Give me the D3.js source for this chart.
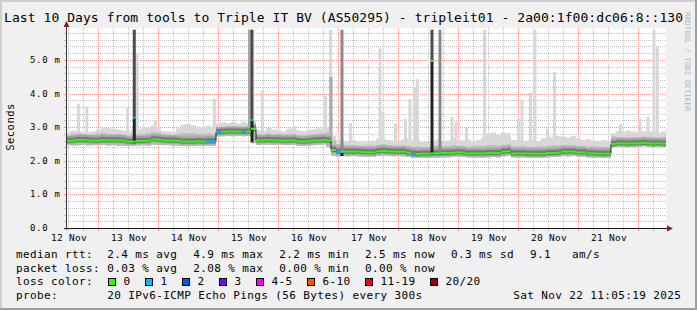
<!DOCTYPE html>
<html lang="en">
<head>
<meta charset="utf-8">
<title>SmokePing - tripleit01 - last 10 days</title>
<script src="https://cdn.jsdelivr.net/npm/d3@7/dist/d3.min.js"></script>
<style>
  html, body { margin: 0; padding: 0; background: #f0f0f0; }
  svg { display: block; }
  text { font-family: "DejaVu Sans Mono", monospace; fill: #000; white-space: pre; }
</style>
</head>
<body>
<div id="chart"></div>
<script>
// ---------- data (2 hour buckets, ms) ----------
var startTime = new Date(2025, 10, 12, 11, 5, 19);
var endTime   = new Date(2025, 10, 22, 11, 5, 19);

var median = [
  2.59, 2.60, 2.62, 2.62, 2.61, 2.60, 2.60, 2.62, 2.61, 2.61,
  2.61, 2.60, 2.57, 2.57, 2.59, 2.59, 2.60, 2.64, 2.63, 2.61,
  2.60, 2.60, 2.59, 2.57, 2.57, 2.57, 2.58, 2.57, 2.58, 2.58,
  2.85, 2.86, 2.87, 2.87, 2.87, 2.86, 2.87, 2.95, 2.61, 2.61,
  2.62, 2.61, 2.61, 2.60, 2.60, 2.61, 2.58, 2.57, 2.58, 2.60,
  2.61, 2.62, 2.60, 2.32, 2.27, 2.27, 2.27, 2.27, 2.27, 2.26,
  2.25, 2.25, 2.28, 2.29, 2.28, 2.27, 2.27, 2.27, 2.24, 2.21,
  2.20, 2.21, 2.21, 2.22, 2.22, 2.23, 2.23, 2.24, 2.25, 2.24,
  2.22, 2.22, 2.22, 2.22, 2.23, 2.23, 2.23, 2.27, 2.28, 2.22,
  2.22, 2.22, 2.21, 2.21, 2.21, 2.21, 2.23, 2.23, 2.24, 2.27,
  2.27, 2.27, 2.25, 2.25, 2.22, 2.22, 2.21, 2.21, 2.21, 2.50,
  2.52, 2.52, 2.51, 2.52, 2.52, 2.53, 2.52, 2.51, 2.52, 2.51
];

var rttMin = [
  2.46, 2.45, 2.46, 2.47, 2.45, 2.46, 2.46, 2.47, 2.45, 2.46,
  2.45, 2.45, 2.44, 2.44, 2.45, 2.46, 2.45, 2.48, 2.47, 2.46,
  2.46, 2.45, 2.45, 2.44, 2.43, 2.44, 2.45, 2.44, 2.45, 2.45,
  2.72, 2.73, 2.74, 2.73, 2.74, 2.73, 2.74, 2.52, 2.47, 2.48,
  2.48, 2.47, 2.48, 2.47, 2.46, 2.47, 2.45, 2.44, 2.45, 2.46,
  2.47, 2.48, 2.40, 2.15, 2.13, 2.14, 2.13, 2.14, 2.13, 2.12,
  2.12, 2.11, 2.14, 2.15, 2.14, 2.13, 2.14, 2.13, 2.11, 2.08,
  2.08, 2.09, 2.08, 2.09, 2.09, 2.10, 2.10, 2.11, 2.12, 2.11,
  2.10, 2.09, 2.10, 2.09, 2.10, 2.11, 2.10, 2.13, 2.14, 2.10,
  2.09, 2.10, 2.08, 2.09, 2.08, 2.09, 2.10, 2.11, 2.11, 2.14,
  2.13, 2.14, 2.12, 2.12, 2.10, 2.09, 2.09, 2.08, 2.09, 2.40,
  2.42, 2.41, 2.42, 2.41, 2.42, 2.43, 2.42, 2.41, 2.42, 2.41
];

var rttUpper = [
  2.76, 2.80, 2.82, 2.80, 2.78, 2.79, 2.81, 2.83, 2.80, 2.79,
  2.80, 2.78, 2.76, 2.80, 2.79, 2.80, 2.82, 2.85, 2.83, 2.79,
  2.78, 2.77, 2.80, 2.82, 2.81, 2.82, 2.80, 2.79, 2.81, 2.80,
  2.98, 2.98, 2.99, 3.00, 2.98, 2.99, 3.00, 3.10, 2.80, 2.78,
  2.81, 2.79, 2.80, 2.78, 2.79, 2.80, 2.77, 2.76, 2.78, 2.79,
  2.81, 2.82, 2.85, 2.60, 2.50, 2.48, 2.46, 2.47, 2.45, 2.44,
  2.46, 2.45, 2.48, 2.50, 2.47, 2.46, 2.45, 2.46, 2.44, 2.42,
  2.43, 2.41, 2.42, 2.44, 2.45, 2.43, 2.44, 2.46, 2.45, 2.44,
  2.42, 2.43, 2.45, 2.44, 2.46, 2.47, 2.45, 2.48, 2.49, 2.43,
  2.42, 2.43, 2.41, 2.42, 2.43, 2.42, 2.44, 2.46, 2.45, 2.47,
  2.48, 2.46, 2.45, 2.44, 2.42, 2.43, 2.41, 2.42, 2.41, 2.72,
  2.70, 2.69, 2.70, 2.71, 2.70, 2.72, 2.71, 2.70, 2.69, 2.70
];

var rttMax = [
  2.84, 2.90, 2.88, 2.86, 2.85, 2.88, 2.93, 3.00, 2.98, 2.95,
  2.92, 2.90, 2.88, 2.92, 2.95, 2.97, 3.00, 3.05, 2.96, 2.88,
  2.87, 2.86, 2.97, 3.08, 3.10, 3.06, 3.02, 2.98, 3.04, 2.99,
  3.12, 3.14, 3.12, 3.15, 3.10, 3.16, 3.12, 3.20, 2.90, 2.88,
  2.97, 2.93, 2.92, 2.87, 2.95, 2.98, 2.90, 2.88, 2.92, 2.94,
  2.97, 2.95, 3.00, 2.75, 2.62, 2.60, 2.58, 2.62, 2.57, 2.55,
  2.58, 2.60, 2.66, 2.64, 2.62, 2.60, 2.58, 2.63, 2.66, 2.62,
  2.60, 2.56, 2.58, 2.60, 2.63, 2.57, 2.60, 2.68, 2.62, 2.60,
  2.62, 2.58, 2.62, 2.70, 2.82, 2.84, 2.80, 2.85, 2.82, 2.62,
  2.60, 2.58, 2.60, 2.62, 2.58, 2.66, 2.72, 2.70, 2.74, 2.72,
  2.70, 2.74, 2.66, 2.62, 2.65, 2.60, 2.58, 2.62, 2.60, 2.82,
  2.88, 2.86, 2.90, 2.87, 2.85, 2.88, 2.89, 2.86, 2.84, 2.87
];

// lost pings out of 20, per bucket
var lossCount = [
  0, 0, 0, 0, 0, 0, 0, 0, 0, 0,
  0, 0, 0, 0, 0, 0, 0, 0, 0, 0,
  0, 0, 0, 0, 0, 0, 0, 0, 1, 1,
  1, 0, 0, 0, 0, 1, 0, 0, 0, 0,
  0, 0, 0, 0, 0, 0, 0, 0, 0, 0,
  0, 0, 0, 0, 1, 0, 0, 0, 0, 0,
  0, 0, 0, 0, 0, 0, 0, 0, 0, 1,
  0, 0, 0, 0, 0, 0, 0, 0, 0, 0,
  0, 0, 0, 0, 0, 0, 0, 0, 0, 0,
  0, 0, 0, 0, 0, 0, 0, 0, 0, 0,
  0, 0, 0, 0, 0, 0, 0, 0, 0, 0,
  0, 0, 0, 0, 0, 0, 0, 0, 0, 0
];

// single slow pings (light smoke spikes)
var lightPeakTimes = [
  "2025-11-12 16:05", "2025-11-12 19:25", "2025-11-13 11:46", "2025-11-13 15:36",
  "2025-11-13 22:48", "2025-11-14 22:26", "2025-11-15 17:41", "2025-11-15 20:41",
  "2025-11-16 06:41", "2025-11-16 18:53", "2025-11-16 20:53", "2025-11-17 04:53",
  "2025-11-17 16:41", "2025-11-17 17:53", "2025-11-17 22:53", "2025-11-18 02:53",
  "2025-11-18 04:41", "2025-11-18 06:29", "2025-11-18 07:41", "2025-11-18 21:29",
  "2025-11-18 23:05", "2025-11-19 03:17", "2025-11-19 10:29", "2025-11-20 00:05",
  "2025-11-20 01:29", "2025-11-20 04:53", "2025-11-20 06:41", "2025-11-20 11:41",
  "2025-11-20 14:29", "2025-11-21 16:53", "2025-11-22 00:41", "2025-11-22 03:53",
  "2025-11-22 06:17", "2025-11-22 07:41"
];
var lightPeakTops = [
  3.70, 3.62, 3.57, 5.17,
  3.19, 3.84, 4.09, 3.02,
  3.04, 3.93, 5.90, 3.12,
  5.35, 3.45, 3.10, 3.25,
  3.84, 4.20, 4.43, 3.30,
  3.16, 2.98, 5.90, 3.25,
  3.81, 4.03, 5.90, 2.95,
  4.64, 3.09, 3.26, 3.31,
  5.90, 5.40
];

// several slow pings together (medium smoke)
var midPeakTimes = ["2025-11-15 12:29", "2025-11-16 21:05"];
var midPeakTops  = [5.90, 4.50];

// bursts where most of the 20 pings went high
var burstTimes  = ["2025-11-13 14:24", "2025-11-15 13:29", "2025-11-17 01:29", "2025-11-18 13:29", "2025-11-18 16:41"];
var burstLow    = [2.52, 2.55, 2.14, 2.18, 2.18];
var burstMedian = [3.28, 3.21, 2.27, 4.97, 2.22];
var burstHigh   = [5.90, 5.90, 5.90, 5.90, 5.90];
var burstLoss   = [1, 1, 1, 0, 1];

var lossLabels = ["0", "1", "2", "3", "4-5", "6-10", "11-19", "20/20"];
var lossColors = ["#26ff00", "#00b8ff", "#0059ff", "#7e00ff", "#ff00ff", "#ff5500", "#ff0000", "#a00000"];

var yTickValues = [0, 1, 2, 3, 4, 5];

var titleText = "Last 10 Days from tools to Triple IT BV (AS50295) - tripleit01 - 2a00:1f00:dc06:8::130";
var rttLegend  = ["2.4 ms avg", "4.9 ms max", "2.2 ms min", "2.5 ms now", "0.3 ms sd", "9.1   am/s"];
var lossLegend = ["0.03 % avg", "2.08 % max", "0.00 % min", "0.00 % now"];
var probeText  = "20 IPv6-ICMP Echo Pings (56 Bytes) every 300s";
var stampText  = "Sat Nov 22 11:05:19 2025";

// ---------- drawing ----------
var width = 697, height = 310;
var plot = { left: 66, right: 666, top: 28, bottom: 228 };
var parseTime = d3.timeParse("%Y-%m-%d %H:%M");

var xScale = d3.scaleTime().domain([startTime, endTime]).range([plot.left, plot.right]);
var yScale = d3.scaleLinear().domain([0, 5.95]).range([plot.bottom, plot.top]);

var buckets = median.map(function(m, i) {
    return {
        t0: d3.timeHour.offset(startTime, i * 2),
        t1: d3.timeHour.offset(startTime, (i + 1) * 2),
        med: m, lo: rttMin[i], up: rttUpper[i], max: rttMax[i], loss: lossCount[i]
    };
});

var lossIndex = function(n) {
    if (n <= 3) return n;
    if (n <= 5) return 4;
    if (n <= 10) return 5;
    if (n <= 19) return 6;
    return 7;
};

var medianAt = function(t) {
    var i = Math.floor((t - startTime) / (2 * 3600 * 1000));
    i = Math.max(0, Math.min(buckets.length - 1, i));
    return buckets[i].med;
};

var svg = d3.select("#chart").append("svg")
    .attr("width", width).attr("height", height);

// background + 3d frame
svg.append("rect").attr("width", width).attr("height", height).attr("fill", "#f0f0f0");
svg.append("rect").attr("x", 0).attr("y", 0).attr("width", width).attr("height", 2).attr("fill", "#cfcfcf");
svg.append("rect").attr("x", 0).attr("y", 0).attr("width", 2).attr("height", height).attr("fill", "#cfcfcf");
svg.append("rect").attr("x", 0).attr("y", height - 2).attr("width", width).attr("height", 2).attr("fill", "#9e9e9e");
svg.append("rect").attr("x", width - 2).attr("y", 0).attr("width", 2).attr("height", height).attr("fill", "#9e9e9e");

// canvas
svg.append("rect")
    .attr("x", plot.left).attr("y", plot.top)
    .attr("width", plot.right - plot.left).attr("height", plot.bottom - plot.top)
    .attr("fill", "#ffffff");

svg.append("defs").append("clipPath").attr("id", "plotClip")
   .append("rect")
    .attr("x", plot.left).attr("y", plot.top)
    .attr("width", plot.right - plot.left).attr("height", plot.bottom - plot.top);

// grid
var minorColor = "#c2c2c2", majorColor = "#f09494";
var grid = svg.append("g").attr("shape-rendering", "crispEdges");

var hLines = yScale.ticks(30);
grid.selectAll(".hgrid").data(hLines).enter().append("line")
    .attr("x1", plot.left).attr("x2", plot.right)
    .attr("y1", function(d) { return Math.round(yScale(d)) + 0.5; })
    .attr("y2", function(d) { return Math.round(yScale(d)) + 0.5; })
    .attr("stroke", function(d) { return Math.abs(d - Math.round(d)) < 1e-6 ? majorColor : minorColor; })
    .attr("stroke-dasharray", "1,1");

var vLines = d3.timeHour.every(6).range(startTime, endTime);
grid.selectAll(".vgrid").data(vLines).enter().append("line")
    .attr("y1", plot.top).attr("y2", plot.bottom)
    .attr("x1", function(d) { return Math.round(xScale(d)) + 0.5; })
    .attr("x2", function(d) { return Math.round(xScale(d)) + 0.5; })
    .attr("stroke", function(d) { return d.getHours() === 0 ? majorColor : minorColor; })
    .attr("stroke-dasharray", "1,1");

// smoke
var data = svg.append("g").attr("clip-path", "url(#plotClip)");

var pts = buckets.map(function(b) { return { t: b.t0, lo: b.lo, up: b.up, max: b.max, med: b.med }; });
pts.push(Object.assign({}, pts[pts.length - 1], { t: endTime }));

data.selectAll(".lpeak").data(lightPeakTimes).enter().append("rect")
    .attr("x", function(d) { return xScale(parseTime(d)) - 1.5; })
    .attr("width", 3)
    .attr("y", function(d, i) { return yScale(lightPeakTops[i]); })
    .attr("height", function(d, i) { return yScale(medianAt(parseTime(d))) - yScale(lightPeakTops[i]); })
    .attr("fill", "#d8d8d8");

data.append("path").datum(pts)
    .attr("d", d3.area().curve(d3.curveStepAfter)
        .x(function(d) { return xScale(d.t); })
        .y0(function(d) { return yScale(d.lo); })
        .y1(function(d) { return yScale(d.max); }))
    .attr("fill", "#d8d8d8");

data.selectAll(".mpeak").data(midPeakTimes).enter().append("rect")
    .attr("x", function(d) { return xScale(parseTime(d)) - 1.5; })
    .attr("width", 3)
    .attr("y", function(d, i) { return yScale(midPeakTops[i]); })
    .attr("height", function(d, i) { return yScale(medianAt(parseTime(d))) - yScale(midPeakTops[i]); })
    .attr("fill", "#a8a8a8");

data.append("path").datum(pts)
    .attr("d", d3.area().curve(d3.curveStepAfter)
        .x(function(d) { return xScale(d.t); })
        .y0(function(d) { return yScale(d.lo); })
        .y1(function(d) { return yScale(d.up); }))
    .attr("fill", "#bababa");

// darker smoke hugging the median
data.selectAll(".band1").data(buckets).enter().append("rect")
    .attr("x", function(d) { return xScale(d.t0); })
    .attr("width", function(d) { return xScale(d.t1) - xScale(d.t0); })
    .attr("y", function(d) { return yScale(d.med) - 5; })
    .attr("height", 8)
    .attr("fill", "#a2a2a2");
data.selectAll(".band2").data(buckets).enter().append("rect")
    .attr("x", function(d) { return xScale(d.t0); })
    .attr("width", function(d) { return xScale(d.t1) - xScale(d.t0); })
    .attr("y", function(d) { return yScale(d.med) - 3; })
    .attr("height", 5)
    .attr("fill", "#777777");

data.append("path").datum(pts)
    .attr("d", d3.line().curve(d3.curveStepAfter)
        .x(function(d) { return xScale(d.t); })
        .y(function(d) { return yScale(d.med); }))
    .attr("fill", "none").attr("stroke", "#262626").attr("stroke-width", 1);

// bursts
var bursts = data.selectAll(".burst").data(burstTimes).enter().append("g");
bursts.append("rect")
    .attr("x", function(d) { return xScale(parseTime(d)) - 1.5; })
    .attr("width", 3)
    .attr("y", function(d, i) { return yScale(burstHigh[i]); })
    .attr("height", function(d, i) { return yScale(burstMedian[i]) - yScale(burstHigh[i]); })
    .attr("fill", function(d, i) { return burstMedian[i] > 3 ? "#4c4c4c" : "#8a8a8a"; });
bursts.append("rect")
    .attr("x", function(d) { return xScale(parseTime(d)) - 1.5; })
    .attr("width", 3)
    .attr("y", function(d, i) { return yScale(burstMedian[i]); })
    .attr("height", function(d, i) { return yScale(burstLow[i]) - yScale(burstMedian[i]); })
    .attr("fill", "#232323");

// median, coloured by loss
data.selectAll(".med").data(buckets).enter().append("rect")
    .attr("x", function(d) { return xScale(d.t0); })
    .attr("width", function(d) { return xScale(d.t1) - xScale(d.t0); })
    .attr("y", function(d) { return yScale(d.med) - 1; })
    .attr("height", 2)
    .attr("fill", function(d) { return lossColors[lossIndex(d.loss)]; });
bursts.append("rect")
    .attr("x", function(d) { return xScale(parseTime(d)) - 1.5; })
    .attr("width", 3)
    .attr("y", function(d, i) { return yScale(burstMedian[i]) - 1; })
    .attr("height", 2)
    .attr("fill", function(d, i) { return lossColors[lossIndex(burstLoss[i])]; });

// axes
var axes = svg.append("g").attr("shape-rendering", "crispEdges");
axes.selectAll(".ytick").data(hLines).enter().append("line")
    .attr("x1", plot.left - 2).attr("x2", plot.left)
    .attr("y1", function(d) { return Math.round(yScale(d)) + 0.5; })
    .attr("y2", function(d) { return Math.round(yScale(d)) + 0.5; })
    .attr("stroke", function(d) { return Math.abs(d - Math.round(d)) < 1e-6 ? majorColor : minorColor; });
axes.selectAll(".xtick").data(vLines).enter().append("line")
    .attr("y1", plot.bottom).attr("y2", plot.bottom + 3)
    .attr("x1", function(d) { return Math.round(xScale(d)) + 0.5; })
    .attr("x2", function(d) { return Math.round(xScale(d)) + 0.5; })
    .attr("stroke", function(d) { return d.getHours() === 0 ? majorColor : minorColor; });

axes.append("line")
    .attr("x1", plot.left + 0.5).attr("x2", plot.left + 0.5)
    .attr("y1", plot.bottom + 2).attr("y2", plot.top - 5)
    .attr("stroke", "#3a3a3a");
axes.append("line")
    .attr("x1", plot.left - 2).attr("x2", plot.right + 5)
    .attr("y1", plot.bottom + 0.5).attr("y2", plot.bottom + 0.5)
    .attr("stroke", "#1a1a1a");
svg.append("path")
    .attr("d", "M" + (plot.left + 0.5) + "," + (plot.top - 7) + " l-3,6 h6 z")
    .attr("fill", "#7f1f1f");
svg.append("path")
    .attr("d", "M" + (plot.right + 7) + "," + (plot.bottom + 0.5) + " l-6,-3 v6 z")
    .attr("fill", "#7f1f1f");

// y labels
svg.selectAll(".ylab").data(yTickValues).enter().append("text")
    .attr("x", 30)
    .attr("y", function(d) { return yScale(d) + 3; })
    .style("font-size", "9px").style("letter-spacing", "0.7px")
    .text(function(d) { return d === 0 ? "0.0" : d.toFixed(1) + " m"; });

// x labels, centred on noon
var days = d3.timeDay.range(new Date(2025, 10, 12), new Date(2025, 10, 22));
svg.selectAll(".xlab").data(days).enter().append("text")
    .attr("x", function(d) { return xScale(d3.timeHour.offset(d, 12)) + 0.8; })
    .attr("y", 240.7)
    .attr("text-anchor", "middle")
    .style("font-size", "9.5px").style("letter-spacing", "0.3px")
    .text(d3.timeFormat("%d %b"));

// title, axis name, watermark
svg.append("text").attr("x", 4).attr("y", 22.3)
    .style("font-size", "13px").style("letter-spacing", "0.07px")
    .text(titleText);

svg.append("text")
    .attr("transform", "translate(14,127) rotate(-90)")
    .attr("text-anchor", "middle")
    .style("font-size", "10.5px").style("letter-spacing", "0.45px")
    .text("Seconds");

svg.append("text")
    .attr("transform", "translate(684.5,12) rotate(90)")
    .style("font-size", "7.5px").style("fill", "#b4b4b4")
    .text("RRDTOOL / TOBI OETIKER");

// legend
var legend = svg.append("g").style("font-size", "11px").style("letter-spacing", "0.38px");
var rowY = [257.6, 271.5, 285.4, 299.3];
var colX = [107.3, 193.3, 279.3, 365, 451, 530];

legend.append("text").attr("x", 16).attr("y", rowY[0]).text("median rtt:");
legend.selectAll(".rtt").data(rttLegend).enter().append("text")
    .attr("x", function(d, i) { return colX[i]; }).attr("y", rowY[0]).text(function(d) { return d; });

legend.append("text").attr("x", 16).attr("y", rowY[1]).text("packet loss:");
legend.selectAll(".pl").data(lossLegend).enter().append("text")
    .attr("x", function(d, i) { return colX[i]; }).attr("y", rowY[1]).text(function(d) { return d; });

legend.append("text").attr("x", 16).attr("y", rowY[2]).text("loss color:");
var boxX = [], bx = 108.5;
lossLabels.forEach(function(l) { boxX.push(bx); bx += 15 + l.length * 7 + 15; });
legend.selectAll(".lbox").data(lossLabels).enter().append("rect")
    .attr("x", function(d, i) { return boxX[i]; }).attr("y", 278.5)
    .attr("width", 7).attr("height", 7)
    .attr("fill", function(d, i) { return lossColors[i]; })
    .attr("stroke", "#000").attr("stroke-width", 1)
    .attr("shape-rendering", "crispEdges");
legend.selectAll(".llab").data(lossLabels).enter().append("text")
    .attr("x", function(d, i) { return boxX[i] + 15; }).attr("y", rowY[2])
    .text(function(d) { return d; });

legend.append("text").attr("x", 16).attr("y", rowY[3]).text("probe:");
legend.append("text").attr("x", 107.3).attr("y", rowY[3]).text(probeText);
legend.append("text").attr("x", 513.3).attr("y", rowY[3]).text(stampText);
</script>
</body>
</html>
